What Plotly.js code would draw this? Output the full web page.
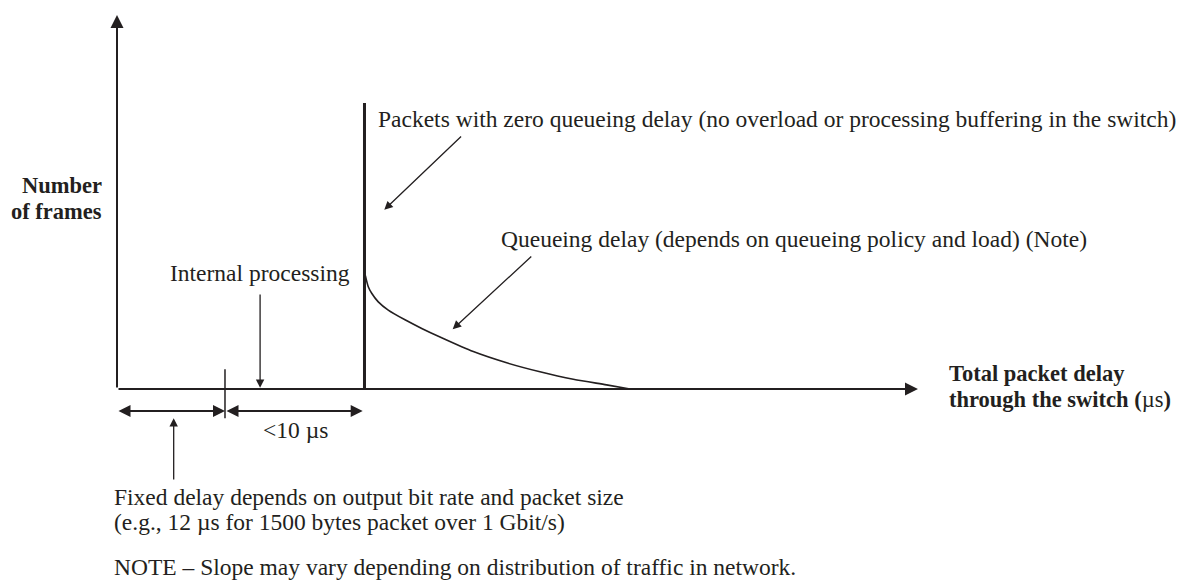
<!DOCTYPE html>
<html>
<head>
<meta charset="utf-8">
<script src="https://cdn.plot.ly/plotly-3.0.1.min.js"></script>
<style>
html, body { margin: 0; padding: 0; background: #fff; }
#chart { width: 1184px; height: 584px; }
</style>
</head>
<body>
<div id="chart"></div>
<script>
// schematic: delay in µs, frames in arbitrary units
const delayMax = 89;
const framesMax = 100;
const fixedDelay = 12;
const processingEnd = 27.3;
const zeroQueueDelay = 27.5;
const zeroQueueFrames = 76.5;
const queueDelay = [27.6, 27.92, 28.3, 29.03, 30.14, 32.0, 33.86, 35.89, 39.59, 43.3, 47.0, 50.7, 54.4, 57.0];
const queueFrames = [30.3, 27.35, 25.6, 23.3, 21.1, 18.5, 16.2, 13.9, 10.0, 7.0, 4.6, 2.6, 1.1, 0];

// pointer arrows [tailX, tailY, headX, headY]
const ptrProcessing = [15.9, 25.7, 15.9, 0.3];
const ptrFixed = [6.3, -24.6, 6.3, -7.8];
const ptrZeroQueue = [38.4, 67.9, 29.7, 47.9];
const ptrQueue = [46.2, 35.8, 37.3, 16.0];

const dimY = -5.9;
const tickSpan = [5.3, -7.8];

const ink = '#231f20';
const serif = 'Liberation Serif, Times New Roman, serif';
const fontSize = 23.5;
const boldSize = 22.5;

const traces = [
    {
        x: [zeroQueueDelay, zeroQueueDelay],
        y: [0, zeroQueueFrames],
        mode: 'lines',
        line: { color: ink, width: 3 },
        hoverinfo: 'skip'
    },
    {
        x: queueDelay,
        y: queueFrames,
        mode: 'lines',
        line: { color: ink, width: 1.6, shape: 'spline', smoothing: 0.8 },
        hoverinfo: 'skip'
    },
    {
        x: [fixedDelay, fixedDelay],
        y: tickSpan,
        mode: 'lines',
        line: { color: ink, width: 1.5 },
        hoverinfo: 'skip'
    }
];

function arrow(x0, y0, x1, y1, width, size, both) {
    const a = {
        x: x1, y: y1, ax: x0, ay: y0,
        xref: 'x', yref: 'y', axref: 'x', ayref: 'y',
        text: '',
        showarrow: true,
        arrowhead: 2,
        arrowsize: size,
        arrowwidth: width,
        arrowcolor: ink,
        standoff: 0
    };
    if (both) {
        a.arrowside = 'end+start';
        a.startarrowhead = 2;
        a.startarrowsize = size;
        a.startstandoff = 0;
    }
    return a;
}

function label(text, x, y, xanchor, bold) {
    return {
        x: x, y: y, xref: 'x', yref: 'y',
        text: bold ? '<b>' + text + '</b>' : text,
        showarrow: false,
        xanchor: xanchor,
        yanchor: 'middle',
        font: { family: serif, size: bold ? boldSize : fontSize, color: ink }
    };
}

const annotations = [
    arrow(0, 0, 0, framesMax, 2, 1.3),
    arrow(0, 0, delayMax, 0, 2, 1.3),
    arrow(0, dimY, fixedDelay, dimY, 2, 1.2, true),
    arrow(fixedDelay, dimY, processingEnd, dimY, 2, 1.2, true),
    arrow(...ptrProcessing, 1.3, 1.3),
    arrow(...ptrFixed, 1.3, 1.3),
    arrow(...ptrZeroQueue, 1.3, 1.3),
    arrow(...ptrQueue, 1.3, 1.3),

    label('Packets with zero queueing delay (no overload or processing buffering in the switch)', 28.8, 72.2, 'left'),
    label('Queueing delay (depends on queueing policy and load) (Note)', 42.4, 40.1, 'left'),
    label('Internal processing', 15.9, 31.0, 'center'),
    label('&lt;10 µs', 19.8, -11.0, 'center'),
    label('Number', -1.4, 54.3, 'right', true),
    label('of frames', -1.4, 47.4, 'right', true),
    label('Total packet delay', 92.2, 4.2, 'left', true),
    label('through the switch (</b>µs<b>)', 92.2, -2.7, 'left', true),
    label('Fixed delay depends on output bit rate and packet size', -0.6, -28.8, 'left'),
    label('(e.g., 12 µs for 1500 bytes packet over 1 Gbit/s)', -0.6, -35.5, 'left'),
    label('NOTE – Slope may vary depending on distribution of traffic in network.', -0.6, -47.6, 'left')
];

const layout = {
    width: 1184,
    height: 584,
    margin: { l: 0, r: 0, t: 0, b: 0 },
    paper_bgcolor: '#ffffff',
    plot_bgcolor: '#ffffff',
    showlegend: false,
    xaxis: { range: [-13, 118.56], visible: false, fixedrange: true },
    yaxis: { range: [-52.14, 104.01], visible: false, fixedrange: true },
    annotations: annotations
};

Plotly.newPlot('chart', traces, layout, { displayModeBar: false, staticPlot: true });
</script>
</body>
</html>
